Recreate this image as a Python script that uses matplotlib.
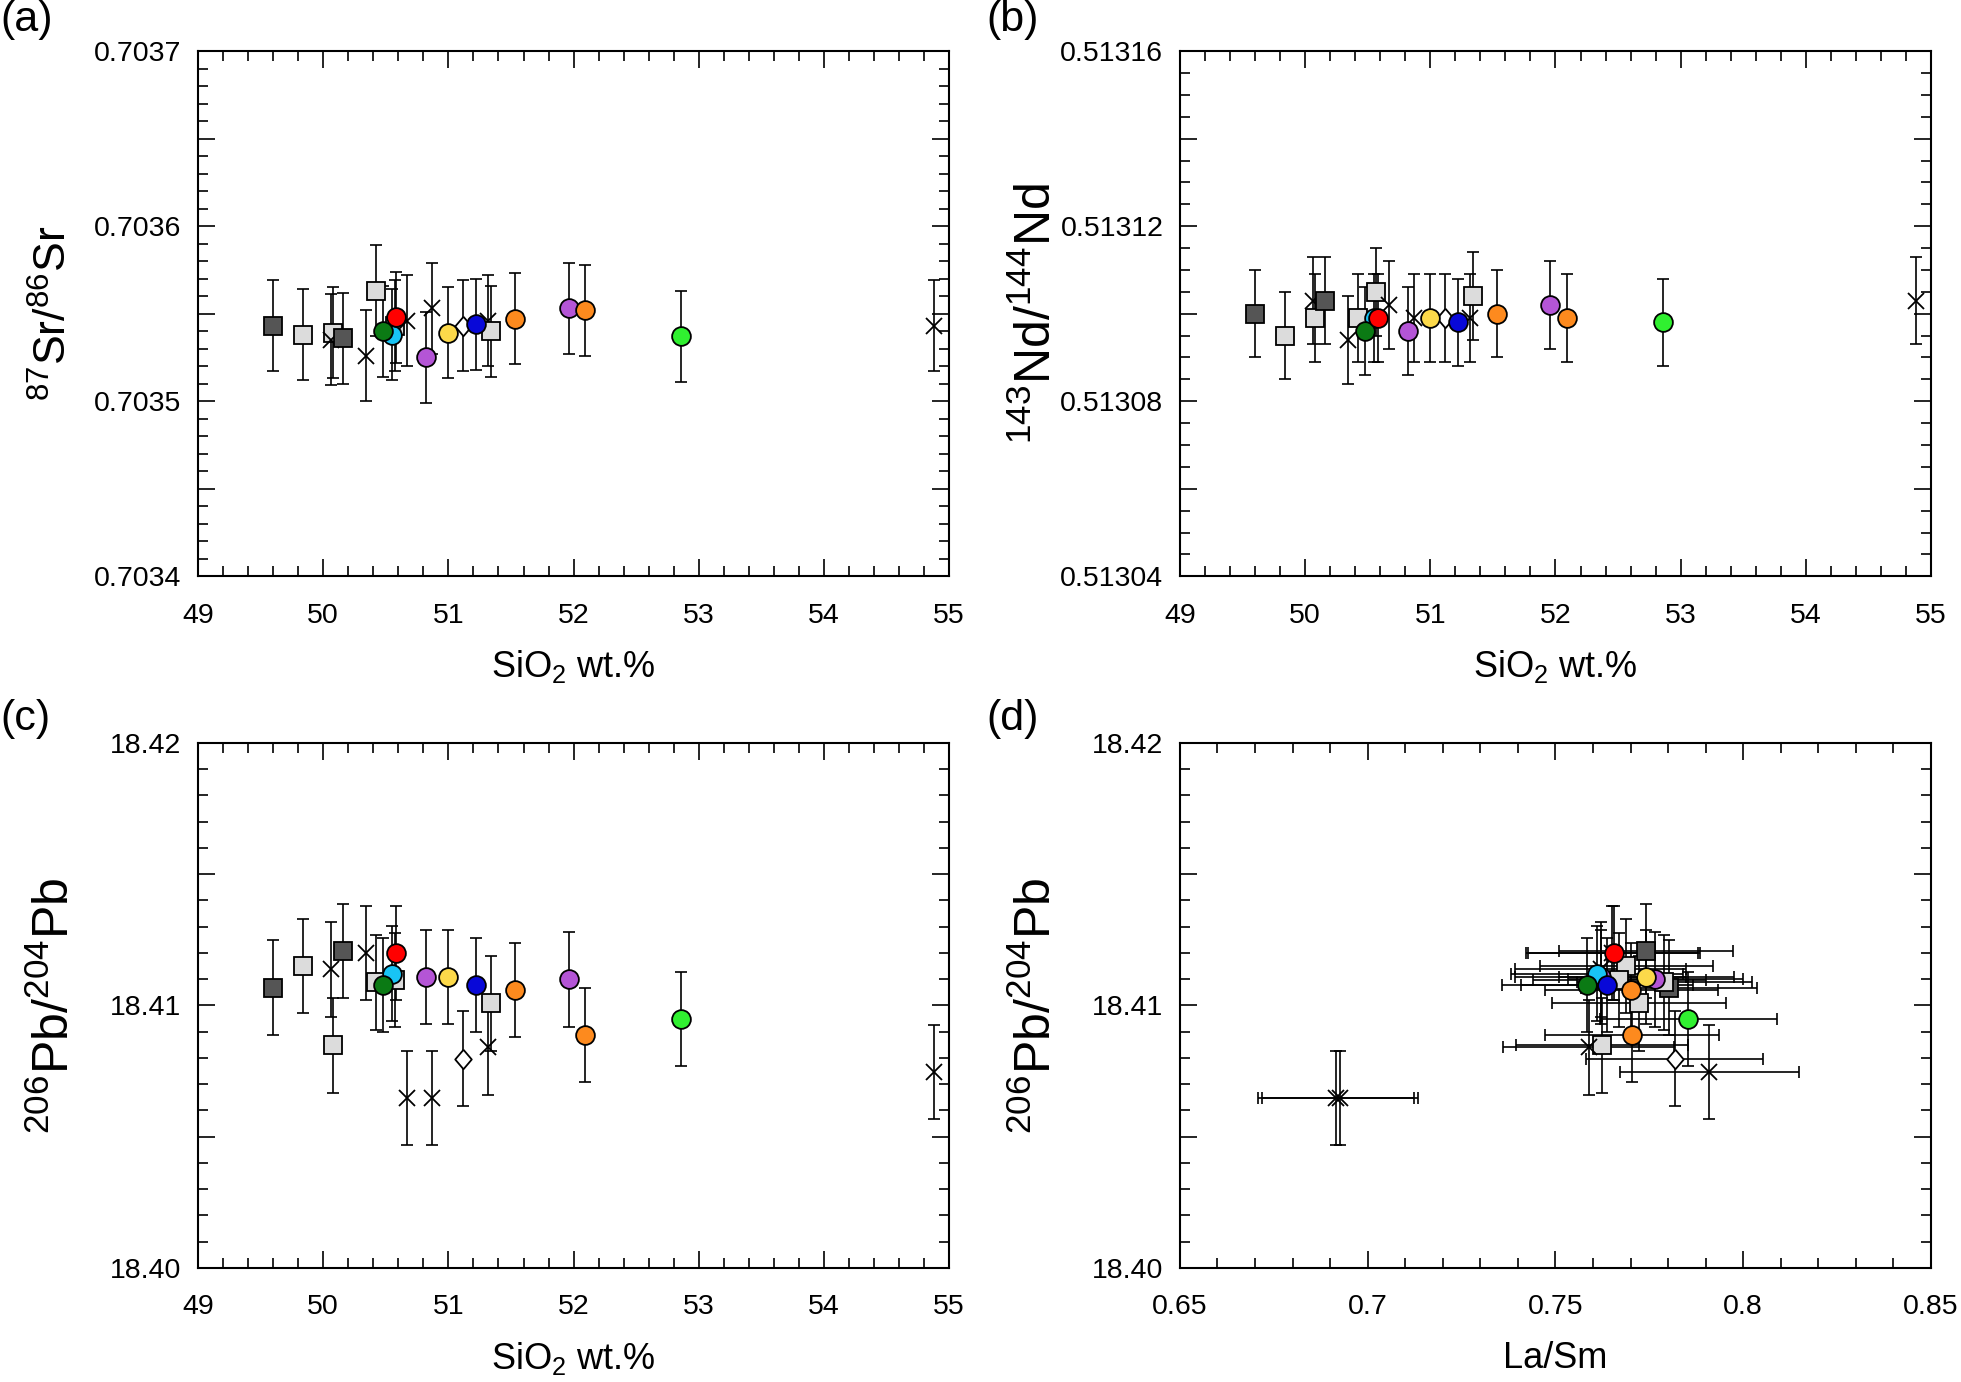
import numpy as np
import matplotlib
matplotlib.use('Agg')
import matplotlib.pyplot as plt
from matplotlib.ticker import MultipleLocator, FuncFormatter

plt.rcParams['font.family'] = ['Liberation Sans', 'DejaVu Sans']

# Probengruppen (Symbolart)
group = ['dark', 'light', 'light', 'cross', 'dark', 'cross', 'light', 'green',
         'light', 'cyan', 'red', 'cross', 'purple', 'cross', 'yellow', 'diamond',
         'blue', 'cross', 'light', 'orange', 'purple', 'orange', 'lime', 'cross']

sio2 = [49.60, 49.84, 50.08, 50.06, 50.16, 50.34, 50.42, 50.48,
        50.57, 50.55, 50.58, 50.67, 50.82, 50.87, 51.00, 51.12,
        51.22, 51.32, 51.34, 51.53, 51.96, 52.09, 52.86, 54.88]

sr87 = [0.703543, 0.703538, 0.703539, 0.703535, 0.703536, 0.703526, 0.703563, 0.703540,
        0.703543, 0.703538, 0.703548, 0.703546, 0.703525, 0.703553, 0.703539, 0.703543,
        0.703544, 0.703546, 0.703540, 0.703547, 0.703553, 0.703552, 0.703537, 0.703543]

nd143 = [0.513100, 0.513095, 0.513099, 0.513103, 0.513103, 0.513094, 0.513099, 0.513096,
         0.513105, 0.513099, 0.513099, 0.513102, 0.513096, 0.513099, 0.513099, 0.513099,
         0.513098, 0.513099, 0.513104, 0.513100, 0.513102, 0.513099, 0.513098, 0.513103]

pb206 = [18.41068, 18.41150, 18.40848, 18.41137, 18.41208, 18.41200, 18.41088, 18.41078,
         18.41096, 18.41121, 18.41200, 18.40648, 18.41109, 18.40648, 18.41109, 18.40797,
         18.41078, 18.40840, 18.41008, 18.41058, 18.41099, 18.40888, 18.40949, 18.40747]

la_sm = [0.7802, 0.7689, 0.7624, 0.7620, 0.7741, 0.7650, 0.7790, 0.7584,
         0.7670, 0.7611, 0.7656, 0.6915, 0.7620, 0.6925, 0.7742, 0.7817,
         0.7637, 0.7589, 0.7722, 0.7702, 0.7766, 0.7704, 0.7854, 0.7910]

# Fehler (2 sigma)
sr_err = 0.000026
nd_err = 0.000010
pb_err = 0.0018
lasm_rel_err = 0.03

# Symbole
diamond = [(0, 1), (0.85, 0), (0, -1), (-0.85, 0), (0, 1)]
style = {
    'dark':    dict(marker='s', mfc='#555555', ms=13),
    'light':   dict(marker='s', mfc='#dcdcdc', ms=13),
    'cross':   dict(marker='x', mfc='none', ms=11),
    'diamond': dict(marker=diamond, mfc='white', ms=14),
    'green':   dict(marker='o', mfc='#0b7a14', ms=13.5),
    'cyan':    dict(marker='o', mfc='#18c4f5', ms=13.5),
    'red':     dict(marker='o', mfc='#ff0000', ms=13.5),
    'purple':  dict(marker='o', mfc='#b455d6', ms=13.5),
    'yellow':  dict(marker='o', mfc='#fcd94a', ms=13.5),
    'blue':    dict(marker='o', mfc='#0808d8', ms=13.5),
    'orange':  dict(marker='o', mfc='#fd8a1e', ms=13.5),
    'lime':    dict(marker='o', mfc='#30f030', ms=13.5),
}
circle_order = ['purple', 'cyan', 'green', 'red', 'blue', 'yellow', 'orange', 'lime']
order = [i for i, g in enumerate(group) if g not in circle_order]
for c in circle_order:
    order += [i for i, g in enumerate(group) if g == c]

fig = plt.figure(figsize=(19.61, 13.82), dpi=100)
ax_a = fig.add_axes([0.101, 0.583, 0.383, 0.380])
ax_b = fig.add_axes([0.6017, 0.583, 0.383, 0.380])
ax_c = fig.add_axes([0.101, 0.0825, 0.383, 0.380])
ax_d = fig.add_axes([0.6017, 0.0825, 0.383, 0.380])


def label_every(step, fmt):
    def f(v, pos):
        if abs(v / step - round(v / step)) < 1e-6:
            return fmt % v
        return ''
    return FuncFormatter(f)


def setup(ax, xlim, xmaj, xmin, xlab_step, xfmt, ylim, ymaj, ymin, ylab_step, yfmt):
    ax.set_xlim(xlim)
    ax.set_ylim(ylim)
    ax.xaxis.set_major_locator(MultipleLocator(xmaj))
    ax.xaxis.set_minor_locator(MultipleLocator(xmin))
    ax.yaxis.set_major_locator(MultipleLocator(ymaj))
    ax.yaxis.set_minor_locator(MultipleLocator(ymin))
    ax.xaxis.set_major_formatter(label_every(xlab_step, xfmt))
    ax.yaxis.set_major_formatter(label_every(ylab_step, yfmt))
    ax.tick_params(which='both', direction='in', top=True, right=True,
                   width=1.2, labelsize=20.5)
    ax.tick_params(which='major', length=12)
    ax.tick_params(which='minor', length=7)
    ax.tick_params(axis='y', pad=12)
    ax.tick_params(axis='x', pad=19)
    for s in ax.spines.values():
        s.set_linewidth(1.5)


def plot_panel(ax, xs, ys, yerr, xerr=None):
    ax.errorbar(xs, ys, yerr=yerr, xerr=xerr, fmt='none', ecolor='black',
                elinewidth=1.2, capsize=4, capthick=1.2, zorder=2)
    for i in order:
        st = style[group[i]]
        ax.plot(xs[i], ys[i], linestyle='none', marker=st['marker'], ms=st['ms'],
                mfc=st['mfc'], mec='black', mew=1.3, zorder=3)


sio2 = np.array(sio2)
la_sm = np.array(la_sm)

plot_panel(ax_a, sio2, sr87, sr_err)
plot_panel(ax_b, sio2, nd143, nd_err)
plot_panel(ax_c, sio2, pb206, pb_err)
plot_panel(ax_d, la_sm, pb206, pb_err, xerr=la_sm * lasm_rel_err)

setup(ax_a, (49, 55), 1, 0.2, 1, '%g', (0.7034, 0.7037), 0.00005, 0.00001, 0.0001, '%.4f')
setup(ax_b, (49, 55), 1, 0.2, 1, '%g', (0.51304, 0.51316), 0.00002, 0.000005, 0.00004, '%.5f')
setup(ax_c, (49, 55), 1, 0.2, 1, '%g', (18.40, 18.42), 0.005, 0.001, 0.01, '%.2f')
setup(ax_d, (0.65, 0.85), 0.05, 0.01, 0.05, '%g', (18.40, 18.42), 0.005, 0.001, 0.01, '%.2f')

ylabels = [r'$\mathregular{^{87}Sr/^{86}Sr}$', r'$\mathregular{^{143}Nd/^{144}Nd}$',
           r'$\mathregular{^{206}Pb/^{204}Pb}$', r'$\mathregular{^{206}Pb/^{204}Pb}$']
ylabel_size = [32, 36, 36, 36]
xlabels = [r'SiO$\mathregular{_2}$ wt.%'] * 3 + ['La/Sm']
for ax, yl, ys, xl in zip([ax_a, ax_b, ax_c, ax_d], ylabels, ylabel_size, xlabels):
    ax.text(-0.191, 0.5, yl, transform=ax.transAxes, rotation=90,
            ha='center', va='center', fontsize=ys)
    ax.text(0.5, -0.172, xl, transform=ax.transAxes,
            ha='center', va='center', fontsize=26)

fig.text(0.0, 1.0, '(a)', ha='left', va='top', fontsize=31)
fig.text(0.503, 1.0, '(b)', ha='left', va='top', fontsize=31)
fig.text(0.0, 0.494, '(c)', ha='left', va='top', fontsize=31)
fig.text(0.503, 0.494, '(d)', ha='left', va='top', fontsize=31)

fig.savefig('out.png', dpi=100)
